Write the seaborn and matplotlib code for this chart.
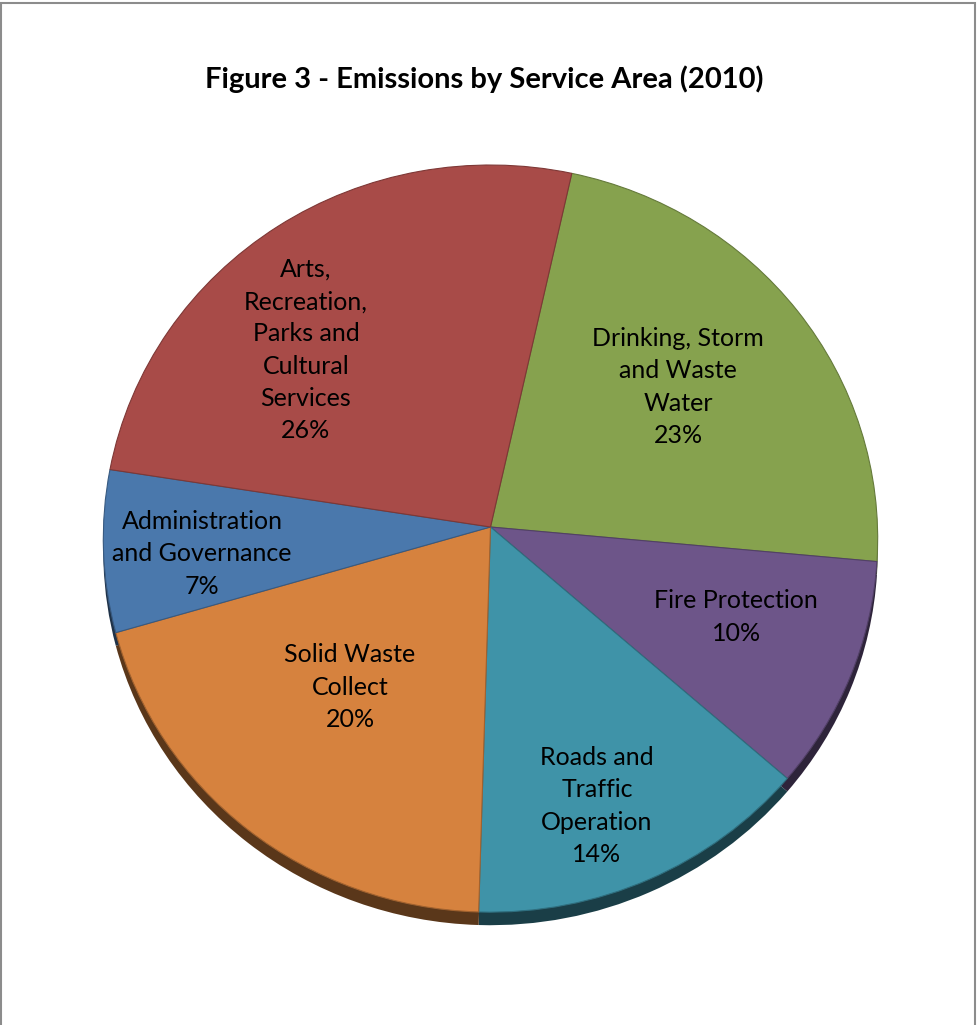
import numpy as np
import matplotlib
matplotlib.use("Agg")
import matplotlib.pyplot as plt
import matplotlib.transforms as mtransforms
from matplotlib.colors import to_rgb
from matplotlib.patches import Rectangle
import seaborn as sns

# data (clockwise from the top)
areas = ["Drinking, Storm\nand Waste\nWater", "Fire Protection", "Roads and\nTraffic\nOperation",
         "Solid Waste\nCollect", "Administration\nand Governance", "Arts,\nRecreation,\nParks and\nCultural\nServices"]
shares = [23, 10, 14, 20, 7, 26]
colors = ["#86A24E", "#6D5589", "#3F93A8", "#D6823E", "#4A78AC", "#A84B48"]

# where Excel put each label (data units of the pie axes, apex at 0,0)
label_pos = [(0.485, 0.375), (0.635, -0.241), (0.275, -0.748),
             (-0.363, -0.429), (-0.745, -0.072), (-0.477, 0.474)]


class Tilt(mtransforms.Transform):
    """Simple perspective so the pie looks tipped back like the Excel 3D pie."""
    input_dims = output_dims = 2

    def __init__(self, k):
        super().__init__()
        self.k = k

    def transform_non_affine(self, xy):
        xy = np.asarray(xy, dtype=float)
        w = 1 + self.k * xy[:, 1]
        return xy / w[:, None]

    def inverted(self):
        return TiltInv(self.k)


class TiltInv(Tilt):
    def transform_non_affine(self, xy):
        xy = np.asarray(xy, dtype=float)
        w = 1 - self.k * xy[:, 1]
        return xy / w[:, None]

    def inverted(self):
        return Tilt(self.k)


sns.set_theme(style="white")
plt.rcParams["font.family"] = ["Lato", "DejaVu Sans"]

fig = plt.figure(figsize=(9.77, 10.25), dpi=100)
fig.patch.set_facecolor("white")

# frame round the chart area
fig.add_artist(Rectangle((1 / 977, -0.01), 974 / 977, 1.01 - 3 / 1025, transform=fig.transFigure,
                         fill=False, edgecolor="#8c8c8c", linewidth=1.5))

fig.text(0.496, 1 - 79 / 1025, "Figure 3 - Emissions by Service Area (2010)",
         ha="center", va="center", fontsize=21, fontweight="bold", color="black")

# axes from y=150px to y=940px, x scale 387px per unit, y scale 373px per unit
ax = fig.add_axes([(490.5 - 387) / 977, (1025 - 940) / 1025, 774 / 977, 790 / 1025])

tilt = Tilt(0.031)
dark = [tuple(c * 0.42 for c in to_rgb(col)) for col in colors]

# side of the tilted pie, then the top face
side, _ = ax.pie(shares, colors=dark, startangle=77.5, counterclock=False,
                 wedgeprops=dict(linewidth=0))
wedges, _ = ax.pie(shares, colors=colors, startangle=77.5, counterclock=False,
                   wedgeprops=dict(linewidth=0.8))
for w in side:
    w.set_transform(tilt + mtransforms.Affine2D().translate(0, -0.035) + ax.transData)
for w, col in zip(wedges, colors):
    w.set_transform(tilt + ax.transData)
    w.set_edgecolor(tuple(c * 0.75 for c in to_rgb(col)))

for name, val, (x, y) in zip(areas, shares, label_pos):
    ax.text(x, y, f"{name}\n{val}%", ha="center", va="center", fontsize=18,
            color="black", linespacing=1.49)

ax.set_aspect("auto")
ax.set_xlim(-1, 1)
ax.set_ylim(-(940 - 527) / 373.2, (527 - 150) / 373.2)
ax.set_axis_off()

fig.savefig("out.png", dpi=100, facecolor="white")
